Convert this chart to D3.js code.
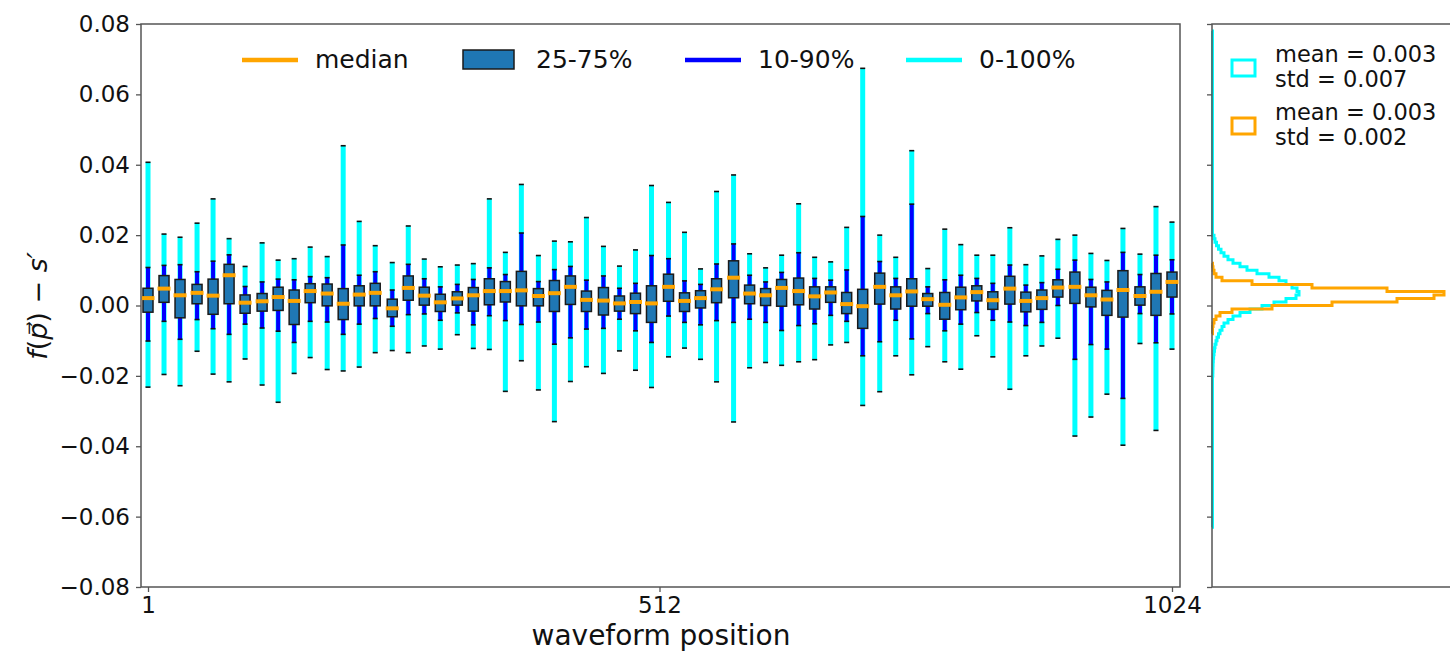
<!DOCTYPE html>
<html>
<head>
<meta charset="utf-8">
<script src="https://cdn.jsdelivr.net/npm/d3@7"></script>
<style>
  body { margin: 0; background: #fff; }
  svg { font-family: "DejaVu Sans", sans-serif; }
</style>
</head>
<body>
<svg width="1450" height="654"></svg>
<script>
// waveform positions of the 64 boxes
var positions = [1,17,33,50,66,82,98,115,131,147,163,180,196,212,228,245,261,277,293,310,326,342,358,374,391,407,423,439,456,472,488,504,521,537,553,569,586,602,618,634,651,667,683,699,715,732,748,764,780,797,813,829,845,862,878,894,910,927,943,959,975,992,1008,1024];

var maxV = [0.0407,0.0203,0.0194,0.0234,0.0303,0.0190,0.0111,0.0178,0.0129,0.0133,0.0166,0.0139,0.0454,0.0239,0.0170,0.0122,0.0226,0.0132,0.0110,0.0115,0.0119,0.0303,0.0151,0.0344,0.0142,0.0183,0.0181,0.0250,0.0168,0.0112,0.0158,0.0341,0.0293,0.0208,0.0104,0.0324,0.0371,0.0147,0.0107,0.0143,0.0289,0.0137,0.0124,0.0222,0.0674,0.0200,0.0137,0.0440,0.0105,0.0217,0.0173,0.0143,0.0143,0.0221,0.0116,0.0141,0.0188,0.0200,0.0148,0.0128,0.0219,0.0146,0.0281,0.0237];
var p90 = [0.0108,0.0114,0.0116,0.0096,0.0126,0.0144,0.0054,0.0067,0.0075,0.0073,0.0082,0.0079,0.0172,0.0086,0.0096,0.0044,0.0117,0.0076,0.0053,0.0060,0.0074,0.0107,0.0088,0.0206,0.0068,0.0102,0.0111,0.0072,0.0084,0.0049,0.0063,0.0142,0.0133,0.0070,0.0060,0.0118,0.0175,0.0086,0.0067,0.0094,0.0150,0.0077,0.0072,0.0101,0.0253,0.0125,0.0077,0.0288,0.0053,0.0073,0.0086,0.0077,0.0063,0.0115,0.0058,0.0065,0.0103,0.0129,0.0074,0.0067,0.0151,0.0088,0.0143,0.0130];
var q75 = [0.0049,0.0085,0.0074,0.0060,0.0075,0.0117,0.0030,0.0034,0.0052,0.0044,0.0062,0.0061,0.0048,0.0056,0.0063,0.0018,0.0084,0.0052,0.0032,0.0039,0.0051,0.0076,0.0068,0.0097,0.0048,0.0071,0.0084,0.0041,0.0051,0.0027,0.0035,0.0056,0.0089,0.0036,0.0042,0.0076,0.0127,0.0058,0.0048,0.0074,0.0078,0.0053,0.0053,0.0037,0.0046,0.0092,0.0053,0.0076,0.0034,0.0037,0.0052,0.0056,0.0039,0.0083,0.0038,0.0044,0.0073,0.0095,0.0052,0.0043,0.0099,0.0053,0.0091,0.0095];
var med = [0.0021,0.0048,0.0029,0.0036,0.0028,0.0086,0.0008,0.0012,0.0024,0.0013,0.0041,0.0034,0.0005,0.0031,0.0036,-0.0008,0.0050,0.0028,0.0009,0.0020,0.0029,0.0041,0.0041,0.0043,0.0027,0.0035,0.0053,0.0016,0.0014,0.0006,0.0010,0.0006,0.0053,0.0013,0.0021,0.0046,0.0079,0.0034,0.0029,0.0050,0.0041,0.0026,0.0037,0.0004,-0.0002,0.0053,0.0029,0.0040,0.0018,0.0002,0.0023,0.0038,0.0015,0.0048,0.0013,0.0021,0.0051,0.0053,0.0029,0.0017,0.0044,0.0027,0.0039,0.0067];
var q25 = [-0.0019,0.0009,-0.0035,0.0005,-0.0025,0.0005,-0.0022,-0.0016,-0.0014,-0.0054,0.0008,-0.0001,-0.0040,-0.0001,-0.0001,-0.0032,0.0015,0.0001,-0.0017,0.0001,-0.0016,0.0002,0.0010,-0.0001,-0.0001,-0.0017,0.0003,-0.0017,-0.0027,-0.0016,-0.0023,-0.0048,0.0012,-0.0017,-0.0007,0.0008,0.0022,0.0005,0.0000,-0.0002,0.0002,-0.0010,0.0009,-0.0023,-0.0065,0.0004,-0.0010,-0.0002,-0.0002,-0.0039,-0.0012,0.0013,-0.0011,0.0004,-0.0018,-0.0011,0.0024,0.0006,-0.0004,-0.0028,-0.0033,0.0001,-0.0028,0.0024];
var p10 = [-0.0101,-0.0045,-0.0096,-0.0040,-0.0066,-0.0082,-0.0053,-0.0064,-0.0073,-0.0105,-0.0045,-0.0047,-0.0082,-0.0053,-0.0037,-0.0059,-0.0026,-0.0024,-0.0042,-0.0021,-0.0055,-0.0029,-0.0043,-0.0054,-0.0047,-0.0110,-0.0092,-0.0067,-0.0065,-0.0039,-0.0072,-0.0105,-0.0030,-0.0048,-0.0055,-0.0043,-0.0048,-0.0039,-0.0048,-0.0071,-0.0057,-0.0052,-0.0028,-0.0045,-0.0143,-0.0103,-0.0042,-0.0095,-0.0023,-0.0072,-0.0053,-0.0020,-0.0042,-0.0047,-0.0057,-0.0048,0.0000,-0.0153,-0.0111,-0.0124,-0.0264,-0.0023,-0.0106,-0.0024];
var minV = [-0.0232,-0.0196,-0.0228,-0.0130,-0.0195,-0.0217,-0.0152,-0.0226,-0.0275,-0.0193,-0.0148,-0.0182,-0.0186,-0.0175,-0.0134,-0.0128,-0.0134,-0.0115,-0.0124,-0.0083,-0.0122,-0.0125,-0.0244,-0.0157,-0.0240,-0.0330,-0.0216,-0.0174,-0.0193,-0.0129,-0.0184,-0.0233,-0.0146,-0.0121,-0.0153,-0.0217,-0.0331,-0.0177,-0.0162,-0.0170,-0.0160,-0.0154,-0.0112,-0.0105,-0.0284,-0.0245,-0.0143,-0.0197,-0.0117,-0.0160,-0.0181,-0.0086,-0.0146,-0.0238,-0.0143,-0.0115,-0.0093,-0.0371,-0.0317,-0.0252,-0.0397,-0.0108,-0.0355,-0.0124];

var yTicks = [-0.08,-0.06,-0.04,-0.02,0.00,0.02,0.04,0.06,0.08];
var xTicks = [1, 512, 1024];

// side histograms (bin edges + heights)
var cyanEdges = [-0.063,-0.020,-0.019,-0.018,-0.017,-0.016,-0.015,-0.014,-0.013,-0.012,-0.011,-0.010,-0.009,-0.008,-0.007,-0.006,-0.005,-0.004,-0.003,-0.002,-0.001,0.000,0.001,0.002,0.003,0.004,0.005,0.006,0.007,0.008,0.009,0.010,0.011,0.012,0.013,0.014,0.015,0.016,0.017,0.018,0.019,0.020,0.078];
var cyanCounts = [0.5,0.8,0.9,1,1.1,1.3,1.6,2,2.5,3,4,5,6.5,8,10,12,16,21,28,38,50,62,74,84,87,85,80,74,67,57,45,35,28,21,16,12,9,6.5,4.5,3,2,0.5];
var orangeEdges = [-0.008,-0.007,-0.006,-0.005,-0.004,-0.003,-0.002,-0.001,0.000,0.001,0.002,0.003,0.004,0.005,0.006,0.007,0.008,0.009,0.010,0.011,0.012];
var orangeCounts = [0.5,0.5,1,2,4,8,20,60,120,185,222,232,175,100,40,10,4,2,1,0.5];
var histLegend = [["mean = 0.003", "std = 0.007"], ["mean = 0.003", "std = 0.002"]];

var svg = d3.select("svg");
var spine = "#555";

var x = d3.scaleLinear().domain([-6, 1032]).range([141, 1180]);
var y = d3.scaleLinear().domain([-0.08, 0.08]).range([587, 24]);

var boxes = positions.map(function(p, i) {
  return {pos: p, max: maxV[i], p90: p90[i], q75: q75[i], med: med[i], q25: q25[i], p10: p10[i], min: minV[i]};
});

var main = svg.append("g");

main.selectAll(".full").data(boxes).enter().append("line")
  .attr("x1", function(d) { return x(d.pos); }).attr("x2", function(d) { return x(d.pos); })
  .attr("y1", function(d) { return y(d.min); }).attr("y2", function(d) { return y(d.max); })
  .attr("stroke", "cyan").attr("stroke-width", 5);

main.selectAll(".mid").data(boxes).enter().append("line")
  .attr("x1", function(d) { return x(d.pos); }).attr("x2", function(d) { return x(d.pos); })
  .attr("y1", function(d) { return y(d.p10); }).attr("y2", function(d) { return y(d.p90); })
  .attr("stroke", "blue").attr("stroke-width", 4);

// caps
["min", "max", "p10", "p90"].forEach(function(k) {
  main.selectAll(".cap-" + k).data(boxes).enter().append("line")
    .attr("x1", function(d) { return x(d.pos) - 2.5; }).attr("x2", function(d) { return x(d.pos) + 2.5; })
    .attr("y1", function(d) { return y(d[k]); }).attr("y2", function(d) { return y(d[k]); })
    .attr("stroke", "#111").attr("stroke-width", 1.6);
});

main.selectAll(".box").data(boxes).enter().append("rect")
  .attr("x", function(d) { return x(d.pos) - 5; })
  .attr("width", 10)
  .attr("y", function(d) { return y(d.q75); })
  .attr("height", function(d) { return y(d.q25) - y(d.q75); })
  .attr("fill", "#1f77b4").attr("stroke", "#1a1a1a").attr("stroke-width", 1.5);

main.selectAll(".med").data(boxes).enter().append("line")
  .attr("x1", function(d) { return x(d.pos) - 6.5; }).attr("x2", function(d) { return x(d.pos) + 6.5; })
  .attr("y1", function(d) { return y(d.med); }).attr("y2", function(d) { return y(d.med); })
  .attr("stroke", "orange").attr("stroke-width", 4);

// frame
svg.append("rect").attr("x", 141).attr("y", 24).attr("width", 1180 - 141).attr("height", 587 - 24)
  .attr("fill", "none").attr("stroke", spine).attr("stroke-width", 1.5);

var ya = svg.append("g").attr("transform", "translate(141,0)")
  .call(d3.axisLeft(y).tickValues(yTicks).tickSize(5).tickPadding(6)
    .tickFormat(function(d) { return d3.format(".2f")(d).replace("-", "\u2212"); }));
ya.select(".domain").remove();
ya.selectAll("line").attr("stroke", spine).attr("stroke-width", 1.3);
ya.selectAll("text").attr("font-size", 23).attr("fill", "#111").attr("font-family", "DejaVu Sans");

var xa = svg.append("g").attr("transform", "translate(0,587)")
  .call(d3.axisBottom(x).tickValues(xTicks).tickSize(5).tickPadding(5).tickFormat(d3.format("d")));
xa.select(".domain").remove();
xa.selectAll("line").attr("stroke", spine).attr("stroke-width", 1.3);
xa.selectAll("text").attr("font-size", 23).attr("fill", "#111").attr("font-family", "DejaVu Sans");

svg.append("text").attr("x", 661).attr("y", 645).attr("text-anchor", "middle")
  .attr("font-size", 28).attr("fill", "#111").text("waveform position");

var yl = svg.append("text").attr("transform", "translate(47,306) rotate(-90)")
  .attr("text-anchor", "middle").attr("font-size", 27).attr("fill", "#111");
yl.append("tspan").attr("font-style", "italic").text("f");
yl.append("tspan").text("(");
yl.append("tspan").attr("font-style", "italic").text("p\u20D7");
yl.append("tspan").text(") \u2212 ");
yl.append("tspan").attr("font-style", "italic").text("s\u2032");

// legend
var leg = svg.append("g").attr("font-size", 25).attr("fill", "#111");
var legItems = [
  {label: "median", x: 242, type: "line", color: "orange"},
  {label: "25-75%", x: 463, type: "box", color: "#1f77b4"},
  {label: "10-90%", x: 685, type: "line", color: "blue"},
  {label: "0-100%", x: 906, type: "line", color: "cyan"}
];
legItems.forEach(function(d) {
  if (d.type == "line") {
    leg.append("line").attr("x1", d.x).attr("x2", d.x + 56).attr("y1", 60).attr("y2", 60)
      .attr("stroke", d.color).attr("stroke-width", 4.5);
  } else {
    leg.append("rect").attr("x", d.x).attr("y", 50).attr("width", 51).attr("height", 19)
      .attr("fill", d.color).attr("stroke", "#1a1a1a").attr("stroke-width", 1.5);
  }
  leg.append("text").attr("x", d.x + 73).attr("y", 68).text(d.label);
});

// right histogram panel
var hx = d3.scaleLinear().domain([0, 240]).range([1212, 1452]);

function stepPath(edges, counts) {
  var pts = [[hx(0), y(edges[0])]];
  counts.forEach(function(c, i) {
    pts.push([hx(c), y(edges[i])]);
    pts.push([hx(c), y(edges[i + 1])]);
  });
  pts.push([hx(0), y(edges[edges.length - 1])]);
  return d3.line()(pts);
}

svg.append("path").attr("d", stepPath(cyanEdges, cyanCounts))
  .attr("fill", "none").attr("stroke", "cyan").attr("stroke-width", 3);
svg.append("path").attr("d", stepPath(orangeEdges, orangeCounts))
  .attr("fill", "none").attr("stroke", "orange").attr("stroke-width", 3);

svg.append("rect").attr("x", 1212).attr("y", 24).attr("width", 260).attr("height", 587 - 24)
  .attr("fill", "none").attr("stroke", spine).attr("stroke-width", 1.5);

var ha = svg.append("g").attr("transform", "translate(1212,0)")
  .call(d3.axisLeft(y).tickValues(yTicks).tickSize(5).tickFormat(""));
ha.select(".domain").remove();
ha.selectAll("line").attr("stroke", spine).attr("stroke-width", 1.3);

var hl = svg.append("g").attr("font-size", 22.5).attr("fill", "#111");
["cyan", "orange"].forEach(function(c, i) {
  var top = 60 + i * 58;
  hl.append("rect").attr("x", 1232).attr("y", top).attr("width", 23).attr("height", 16)
    .attr("fill", "none").attr("stroke", c).attr("stroke-width", 3);
  hl.append("text").attr("x", 1275).attr("y", top + 2).text(histLegend[i][0]);
  hl.append("text").attr("x", 1275).attr("y", top + 27).text(histLegend[i][1]);
});
</script>
</body>
</html>
